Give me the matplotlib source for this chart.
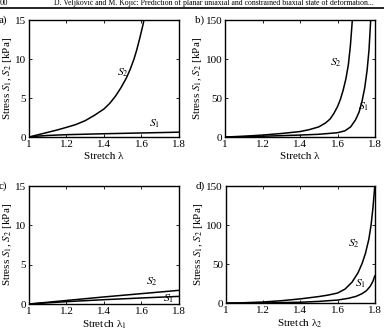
import matplotlib
matplotlib.use("Agg")
import matplotlib.pyplot as plt
from matplotlib.lines import Line2D

plt.rcParams['font.family'] = ['Liberation Serif', 'DejaVu Serif']
plt.rcParams['mathtext.fontset'] = 'stix'

# a) uniaxial, stretch lambda
a_s2_x = [1.0, 1.05, 1.1, 1.15, 1.2, 1.25, 1.3, 1.35, 1.4, 1.43, 1.46, 1.49, 1.52,
          1.54, 1.56, 1.575, 1.59, 1.6, 1.608, 1.613]
a_s2_y = [0.0, 0.3, 0.6, 0.9, 1.24, 1.6, 2.1, 2.8, 3.6, 4.3, 5.2, 6.3, 7.6,
          8.7, 10.0, 11.2, 12.6, 13.6, 14.4, 15.0]
a_s1_x = [1.0, 1.05, 1.1, 1.2, 1.3, 1.4, 1.5, 1.6, 1.7, 1.8]
a_s1_y = [0.0, 0.12, 0.2, 0.3, 0.36, 0.42, 0.47, 0.52, 0.57, 0.62]

# b) uniaxial, larger stiffness
b_s2_x = [1.0, 1.1, 1.2, 1.3, 1.4, 1.45, 1.5, 1.536, 1.56, 1.58, 1.6, 1.615,
          1.63, 1.645, 1.658, 1.669, 1.679]
b_s2_y = [0.0, 1.0, 2.5, 4.5, 7.0, 9.5, 13.0, 18.0, 23.0, 30.0, 39.0, 48.0,
          60.0, 75.0, 93.0, 118.0, 150.0]
b_s1_x = [1.0, 1.2, 1.4, 1.5, 1.6, 1.64, 1.67, 1.696, 1.715, 1.73, 1.745, 1.758,
          1.768, 1.777]
b_s1_y = [0.0, 1.0, 2.5, 3.5, 5.5, 8.0, 13.0, 22.0, 32.0, 45.0, 63.0, 86.0,
          112.0, 150.0]

# c) biaxial, stretch lambda_1
c_s2_x = [1.0, 1.2, 1.4, 1.6, 1.8]
c_s2_y = [0.0, 0.45, 0.9, 1.32, 1.74]
c_s1_x = [1.0, 1.2, 1.4, 1.6, 1.8]
c_s1_y = [0.0, 0.3, 0.55, 0.77, 0.97]

# d) biaxial, stretch lambda_2
d_s2_x = [1.0, 1.1, 1.2, 1.3, 1.4, 1.5, 1.55, 1.6, 1.64, 1.678, 1.71, 1.732,
          1.75, 1.768, 1.78, 1.79, 1.8]
d_s2_y = [0.0, 0.6, 1.5, 3.2, 5.5, 8.5, 10.4, 13.0, 18.0, 27.0, 39.0, 51.0,
          64.0, 82.0, 100.0, 122.0, 150.0]
d_s1_x = [1.0, 1.2, 1.4, 1.5, 1.6, 1.66, 1.7, 1.73, 1.755, 1.775, 1.79, 1.8]
d_s1_y = [0.0, 0.3, 1.2, 2.3, 4.0, 6.3, 8.8, 12.0, 16.0, 21.5, 28.0, 35.0]

x_ticks = [1, 1.2, 1.4, 1.6, 1.8]
x_tick_labels = ['1', '1.2', '1.4', '1.6', '1.8']

panels = [
    # letter, rect, ymax, yticks, xlabel, s2, s1, s2 label pos, s1 label pos
    ('a)', [0.0755, 0.591, 0.3906, 0.349], 15, [0, 5, 10, 15], 'Stretch λ',
     (a_s2_x, a_s2_y), (a_s1_x, a_s1_y), (1.5, 8.3), (1.67, 1.7)),
    ('b)', [0.586, 0.591, 0.3906, 0.349], 150, [0, 50, 100, 150], 'Stretch λ',
     (b_s2_x, b_s2_y), (b_s1_x, b_s1_y), (1.59, 95), (1.74, 39)),
    ('c)', [0.0755, 0.0925, 0.3906, 0.352], 15, [0, 5, 10, 15], r'Stretch λ$_1$',
     (c_s2_x, c_s2_y), (c_s1_x, c_s1_y), (1.654, 2.8), (1.743, 0.7)),
    ('d)', [0.588, 0.095, 0.388, 0.349], 150, [0, 50, 100, 150], r'Stretch λ$_2$',
     (d_s2_x, d_s2_y), (d_s1_x, d_s1_y), (1.687, 76), (1.723, 25)),
]

fig = plt.figure(figsize=(3.84, 3.35), dpi=100, facecolor='white')

# page header
fig.text(0.0, 1 - 3/335, '00', fontsize=6, va='center', ha='left')
fig.text(0.14, 1 - 3/335,
         'D. Veljković and M. Kojić: Prediction of planar uniaxial and constrained biaxial state of deformation...',
         fontsize=5.55, va='center', ha='left')
fig.add_artist(Line2D([0, 1], [1 - 8/335, 1 - 8/335], color='black', lw=1.2,
                      transform=fig.transFigure))

for letter, rect, ymax, yticks, xlabel, s2, s1, p2, p1 in panels:
    ax = fig.add_axes(rect)
    ax.plot(s2[0], s2[1], color='black', lw=1.1)
    ax.plot(s1[0], s1[1], color='black', lw=1.1)
    ax.set_xlim(1, 1.8)
    ax.set_ylim(0, ymax)
    ax.set_xticks(x_ticks)
    ax.set_xticklabels(x_tick_labels)
    ax.set_yticks(yticks)
    ax.tick_params(direction='in', top=True, right=True, length=2.5, width=0.6,
                   labelsize=8, pad=2)
    for sp in ax.spines.values():
        sp.set_linewidth(1.0)
    ax.set_xlabel(xlabel, fontsize=8, labelpad=2)
    ax.set_ylabel(r'Stress $S_1$, $S_2$ [kPa]', fontsize=8, labelpad=1)
    ax.text(p2[0], p2[1], r'$S_2$', fontsize=8.5, ha='center', va='center')
    ax.text(p1[0], p1[1], r'$S_1$', fontsize=8.5, ha='center', va='center')
    ax.text(-0.2, 1.0, letter, transform=ax.transAxes, fontsize=8, ha='left', va='center')

fig.savefig('out.png', dpi=100, facecolor='white')
